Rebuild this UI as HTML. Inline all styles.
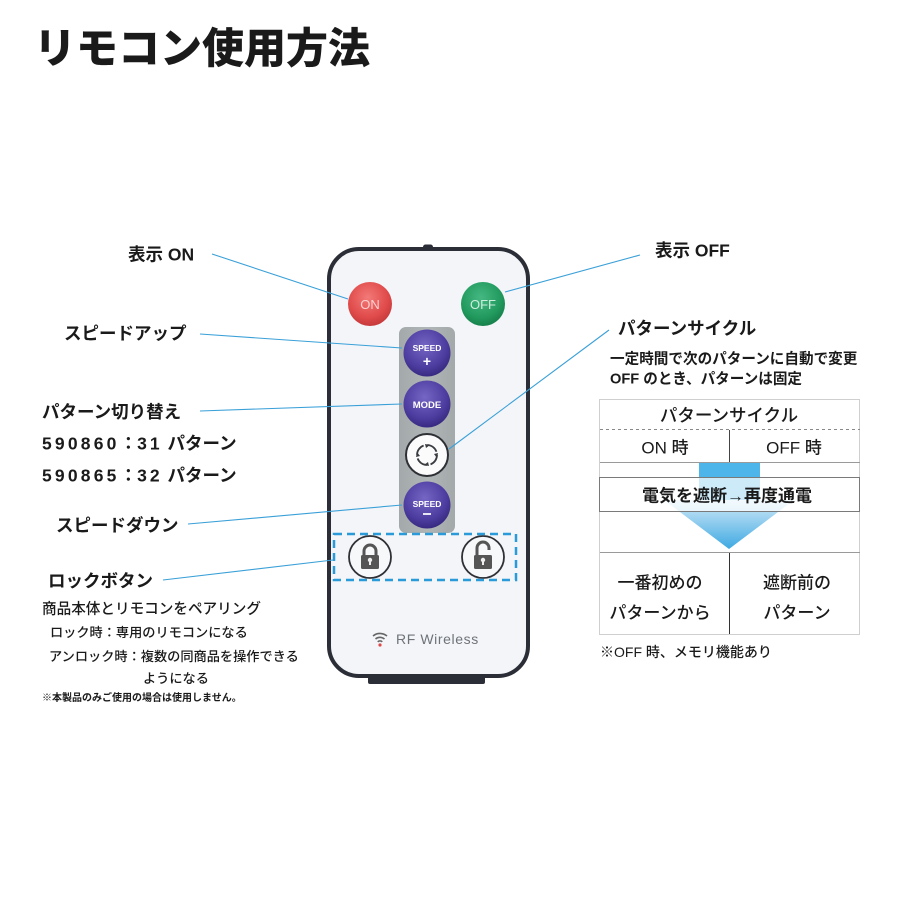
<!DOCTYPE html>
<html>
<head>
<meta charset="utf-8">
<style>
html,body{margin:0;padding:0;background:#fff;}
body{width:900px;height:900px;overflow:hidden;}
svg{display:block;}
text{font-family:"Liberation Sans","Noto Sans CJK JP",sans-serif;fill:#1a1a1a;}
.b{font-weight:700;}
</style>
</head>
<body>
<svg width="900" height="900" viewBox="0 0 900 900" xmlns="http://www.w3.org/2000/svg">
<defs>
  <radialGradient id="gRed" cx="45%" cy="35%" r="65%">
    <stop offset="0" stop-color="#f27a78"/>
    <stop offset="0.7" stop-color="#e04a4a"/>
    <stop offset="1" stop-color="#c63a3c"/>
  </radialGradient>
  <radialGradient id="gGreen" cx="45%" cy="35%" r="65%">
    <stop offset="0" stop-color="#45b882"/>
    <stop offset="0.7" stop-color="#229a5e"/>
    <stop offset="1" stop-color="#17814c"/>
  </radialGradient>
  <radialGradient id="gPurple" cx="45%" cy="35%" r="65%">
    <stop offset="0" stop-color="#7566c4"/>
    <stop offset="0.7" stop-color="#4d3da0"/>
    <stop offset="1" stop-color="#382a82"/>
  </radialGradient>
  <linearGradient id="gPanel" x1="0" y1="0" x2="1" y2="0">
    <stop offset="0" stop-color="#a3a9aa"/>
    <stop offset="0.5" stop-color="#b0b6b6"/>
    <stop offset="1" stop-color="#a3a9aa"/>
  </linearGradient>
  <linearGradient id="gArrow" x1="0" y1="0" x2="0" y2="1">
    <stop offset="0" stop-color="#cfeaf8"/>
    <stop offset="0.35" stop-color="#9fd3f0"/>
    <stop offset="1" stop-color="#3ea9e2"/>
  </linearGradient>
</defs>

<!-- Title -->
<text x="34" y="63" class="b" style="font-size:42px;font-weight:900;">リモコン使用方法</text>

<!-- Remote -->
<rect x="423" y="244.5" width="10" height="6" rx="2.5" fill="#2b2e36"/>
<rect x="368" y="672" width="117" height="12" rx="2" fill="#2b2e36"/>
<rect x="329" y="249" width="199" height="427" rx="30" fill="#f3f5f9" stroke="#2b2e36" stroke-width="4"/>

<!-- ON / OFF -->
<circle cx="370" cy="304" r="22" fill="url(#gRed)"/>
<text x="370" y="309" text-anchor="middle" style="font-size:13px;fill:#fbd0cf;">ON</text>
<circle cx="483" cy="304" r="22" fill="url(#gGreen)"/>
<text x="483" y="309" text-anchor="middle" style="font-size:13px;fill:#cdeedd;">OFF</text>

<!-- gray panel -->
<rect x="399" y="327" width="56" height="206" rx="7" fill="url(#gPanel)"/>

<!-- SPEED + -->
<circle cx="427" cy="353" r="23.5" fill="url(#gPurple)"/>
<text x="427" y="351" text-anchor="middle" class="b" style="font-size:8.5px;fill:#fff;">SPEED</text>
<text x="427" y="366" text-anchor="middle" class="b" style="font-size:14px;fill:#fff;">+</text>

<!-- MODE -->
<circle cx="427" cy="404" r="23.5" fill="url(#gPurple)"/>
<text x="427" y="408" text-anchor="middle" class="b" style="font-size:9.5px;fill:#fff;">MODE</text>

<!-- cycle -->
<circle cx="427" cy="455" r="21" fill="#fbfbfb" stroke="#2e3036" stroke-width="2"/>
<circle cx="427" cy="455" r="10" fill="none" stroke="#3a3c40" stroke-width="1.8" stroke-dasharray="12,3.7"/>
<polygon points="425,444 430,445 426,448" fill="#3a3c40"/>
<polygon points="438,453 437,458 434,454" fill="#3a3c40"/>
<polygon points="429,466 424,465 428,462" fill="#3a3c40"/>
<polygon points="416,457 417,452 420,456" fill="#3a3c40"/>

<!-- SPEED - -->
<circle cx="427" cy="505" r="23.5" fill="url(#gPurple)"/>
<text x="427" y="507" text-anchor="middle" class="b" style="font-size:8.5px;fill:#fff;">SPEED</text>
<rect x="423" y="513" width="8" height="2" fill="#e8e6f4"/>

<!-- locks -->
<circle cx="370" cy="557" r="21" fill="#f7f8fa" stroke="#2e3036" stroke-width="1.8"/>
<path d="M364,556 v-5 a6,6 0 0 1 12,0 v5" fill="none" stroke="#555" stroke-width="3"/>
<rect x="361" y="555" width="18" height="14" rx="1.5" fill="#555"/>
<circle cx="370" cy="560" r="2.2" fill="#eee"/>
<rect x="369" y="561" width="2" height="4" fill="#eee"/>

<circle cx="483" cy="557" r="21" fill="#f7f8fa" stroke="#2e3036" stroke-width="1.8"/>
<path d="M477,556 v-8 a6,6 0 0 1 12,0 v2" fill="none" stroke="#555" stroke-width="3"/>
<rect x="474" y="555" width="18" height="14" rx="1.5" fill="#555"/>
<circle cx="483" cy="560" r="2.2" fill="#eee"/>
<rect x="482" y="561" width="2" height="4" fill="#eee"/>

<!-- dashed box -->
<rect x="334" y="534" width="182" height="46" fill="none" stroke="#2b9ad9" stroke-width="2.5" stroke-dasharray="8,5"/>

<!-- RF wireless -->
<path d="M373,636 a11,11 0 0 1 14,0" fill="none" stroke="#666" stroke-width="1.6"/>
<path d="M375.5,639 a7,7 0 0 1 9,0" fill="none" stroke="#666" stroke-width="1.6"/>
<path d="M377.7,641.8 a3.5,3.5 0 0 1 4.6,0" fill="none" stroke="#666" stroke-width="1.6"/>
<circle cx="380" cy="645" r="1.6" fill="#e04848"/>
<text x="396" y="644" style="font-size:14px;fill:#6f7378;letter-spacing:0.6px;">RF Wireless</text>

<!-- connectors -->
<g stroke="#3aa0d8" stroke-width="1.1" fill="none">
  <line x1="212" y1="254" x2="348" y2="299"/>
  <line x1="200" y1="334" x2="402" y2="348"/>
  <line x1="200" y1="411" x2="402" y2="404"/>
  <line x1="188" y1="524" x2="402" y2="505"/>
  <line x1="163" y1="580" x2="333" y2="560"/>
  <line x1="640" y1="255" x2="505" y2="292"/>
  <line x1="609" y1="330" x2="449" y2="449"/>
</g>

<!-- left labels -->
<text x="128" y="260.5" class="b" style="font-size:17.5px;">表示 ON</text>
<text x="64" y="339.5" class="b" style="font-size:17.5px;">スピードアップ</text>
<text x="42" y="418" class="b" style="font-size:17.5px;">パターン切り替え</text>
<text x="42" y="449.5" class="b" style="font-size:17.5px;"><tspan style="letter-spacing:3.2px;">590860</tspan>：<tspan style="letter-spacing:3px;">31</tspan> パターン</text>
<text x="42" y="481.5" class="b" style="font-size:17.5px;"><tspan style="letter-spacing:3.2px;">590865</tspan>：<tspan style="letter-spacing:3px;">32</tspan> パターン</text>
<text x="56" y="531.5" class="b" style="font-size:17.5px;">スピードダウン</text>
<text x="48" y="587" class="b" style="font-size:17.5px;">ロックボタン</text>
<text x="42" y="613.5" style="font-size:14.6px;font-weight:500;">商品本体とリモコンをペアリング</text>
<text x="50" y="637" style="font-size:13.2px;font-weight:500;">ロック時：専用のリモコンになる</text>
<text x="49" y="661" style="font-size:13.2px;font-weight:500;">アンロック時：複数の同商品を操作できる</text>
<text x="143" y="683" style="font-size:13.2px;font-weight:500;">ようになる</text>
<text x="42" y="701" class="b" style="font-size:10px;">※本製品のみご使用の場合は使用しません。</text>

<!-- right labels -->
<text x="655" y="256.5" class="b" style="font-size:17.5px;">表示 OFF</text>
<text x="618" y="334.5" class="b" style="font-size:17.5px;">パターンサイクル</text>
<text x="610" y="363.5" class="b" style="font-size:14.6px;">一定時間で次のパターンに自動で変更</text>
<text x="610" y="383.5" class="b" style="font-size:14.6px;">OFF のとき、パターンは固定</text>

<!-- table -->
<rect x="599.5" y="399.5" width="260" height="235" fill="#fff" stroke="#cfcfcf" stroke-width="1"/>
<line x1="600" y1="429.5" x2="860" y2="429.5" stroke="#888" stroke-width="1" stroke-dasharray="3,3"/>
<line x1="729.5" y1="430" x2="729.5" y2="462" stroke="#444" stroke-width="1"/>
<line x1="600" y1="462.5" x2="860" y2="462.5" stroke="#9a9a9a" stroke-width="1"/>
<rect x="699" y="463" width="61" height="40" fill="#4db5ea"/>
<polygon points="664,500 794,500 729,549" fill="url(#gArrow)"/>
<rect x="599.5" y="477.5" width="260" height="34" fill="rgba(255,255,255,0.72)" stroke="#7a7a7a" stroke-width="1"/>
<line x1="600" y1="552.5" x2="860" y2="552.5" stroke="#9a9a9a" stroke-width="1"/>
<line x1="729.5" y1="553" x2="729.5" y2="634" stroke="#333" stroke-width="1"/>

<text x="729" y="421.5" text-anchor="middle" style="font-size:17.5px;font-weight:500;">パターンサイクル</text>
<text x="665" y="453.5" text-anchor="middle" style="font-size:17px;font-weight:500;">ON 時</text>
<text x="794" y="453.5" text-anchor="middle" style="font-size:17px;font-weight:500;">OFF 時</text>
<text x="727" y="501.5" text-anchor="middle" class="b" style="font-size:17px;">電気を遮断→再度通電</text>
<text x="660" y="588.5" text-anchor="middle" style="font-size:17px;font-weight:500;">一番初めの</text>
<text x="660" y="618.5" text-anchor="middle" style="font-size:17px;font-weight:500;">パターンから</text>
<text x="797" y="588.5" text-anchor="middle" style="font-size:17px;font-weight:500;">遮断前の</text>
<text x="797" y="618.5" text-anchor="middle" style="font-size:17px;font-weight:500;">パターン</text>
<text x="600" y="657" style="font-size:14px;font-weight:500;">※OFF 時、メモリ機能あり</text>
</svg>
</body>
</html>
